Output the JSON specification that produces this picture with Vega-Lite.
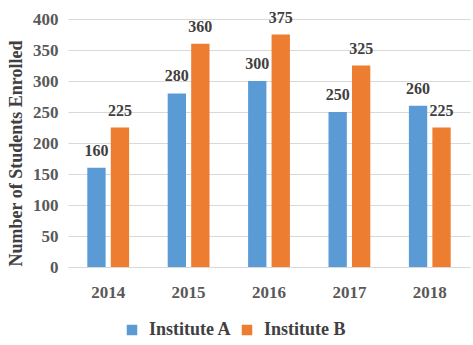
{
  "$schema": "https://vega.github.io/schema/vega-lite/v6.json",
  "autosize": "none",
  "width": 402,
  "height": 248,
  "padding": {"left": 68, "top": 19, "right": 3, "bottom": 78},
  "background": "white",
  "config": {
    "view": {"stroke": null},
    "font": "Liberation Serif"
  },
  "data": {
    "values": [
      {"year": "2014", "institute": "Institute A", "students": 160},
      {"year": "2014", "institute": "Institute B", "students": 225},
      {"year": "2015", "institute": "Institute A", "students": 280},
      {"year": "2015", "institute": "Institute B", "students": 360},
      {"year": "2016", "institute": "Institute A", "students": 300},
      {"year": "2016", "institute": "Institute B", "students": 375},
      {"year": "2017", "institute": "Institute A", "students": 250},
      {"year": "2017", "institute": "Institute B", "students": 325},
      {"year": "2018", "institute": "Institute A", "students": 260},
      {"year": "2018", "institute": "Institute B", "students": 225}
    ]
  },
  "encoding": {
    "x": {
      "field": "year", "type": "nominal",
      "scale": {"paddingInner": 0.48, "paddingOuter": 0.24},
      "axis": {
        "title": null, "labelAngle": 0, "ticks": false,
        "domainColor": "#d9d9d9", "labelPadding": 17,
        "labelFont": "Liberation Serif", "labelFontWeight": "bold",
        "labelFontSize": 17, "labelColor": "#595959"
      }
    },
    "xOffset": {"field": "institute", "type": "nominal", "scale": {"paddingInner": 0.22}},
    "y": {
      "field": "students", "type": "quantitative",
      "scale": {"domain": [0, 400]},
      "axis": {
        "title": "Number of Students Enrolled",
        "titleFont": "Liberation Serif", "titleFontWeight": "bold",
        "titleFontSize": 18, "titleColor": "#404040", "titlePadding": 7,
        "titleY": 134,
        "values": [0, 50, 100, 150, 200, 250, 300, 350, 400],
        "domain": false, "ticks": false, "labelPadding": 10,
        "gridColor": "#d9d9d9",
        "labelFont": "Liberation Serif", "labelFontWeight": "bold",
        "labelFontSize": 17, "labelColor": "#595959"
      }
    }
  },
  "layer": [
    {
      "mark": {"type": "bar"},
      "encoding": {
        "color": {
          "field": "institute", "type": "nominal",
          "scale": {"domain": ["Institute A", "Institute B"], "range": ["#5B9BD5", "#ED7D31"]},
          "legend": {
            "title": null, "orient": "none", "direction": "horizontal",
            "legendX": 55, "legendY": 302,
            "symbolType": "square", "symbolSize": 110, "symbolStrokeWidth": 0,
            "labelFont": "Liberation Serif", "labelFontWeight": "bold",
            "labelFontSize": 18, "labelColor": "#404040",
            "columnPadding": 6, "labelOffset": 8
          }
        }
      }
    },
    {
      "mark": {"type": "text", "baseline": "bottom", "dy": -9, "font": "Liberation Serif", "fontWeight": "bold", "fontSize": 16, "color": "#404040"},
      "encoding": {
        "text": {"field": "students", "type": "quantitative"}
      }
    }
  ]
}
